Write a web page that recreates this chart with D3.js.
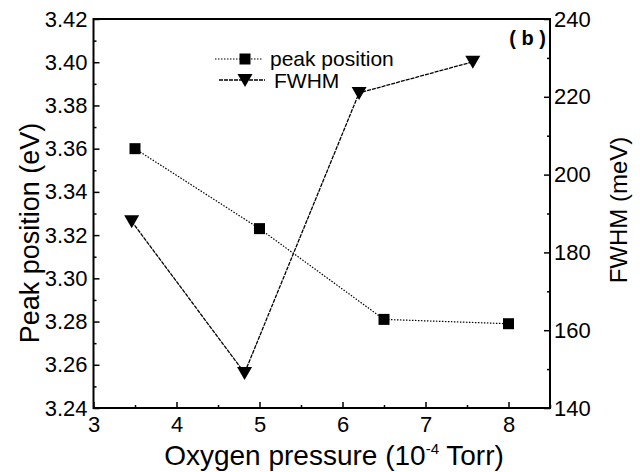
<!DOCTYPE html>
<html>
<head>
<meta charset="utf-8">
<script src="https://cdn.jsdelivr.net/npm/d3@7"></script>
<style>
  body { margin: 0; background: #fff; }
  text { font-family: "Liberation Sans", Arial, sans-serif; fill: #000; }
</style>
</head>
<body>
<div id="chart"></div>
<script>
// values
var peakPressure = [3.5, 5.0, 6.5, 8.0];
var peakEnergy = [3.36, 3.323, 3.281, 3.279];
var fwhmPressure = [3.46, 4.82, 6.2, 7.57];
var fwhmValue = [188, 149, 221, 229];

var xTicks = [3, 4, 5, 6, 7, 8];
var xMinor = [3.5, 4.5, 5.5, 6.5, 7.5, 8.5];
var leftTicks = [3.24, 3.26, 3.28, 3.30, 3.32, 3.34, 3.36, 3.38, 3.40, 3.42];
var leftMinor = [3.25, 3.27, 3.29, 3.31, 3.33, 3.35, 3.37, 3.39, 3.41];
var rightTicks = [140, 160, 180, 200, 220, 240];
var rightMinor = [150, 170, 190, 210, 230];

var W = 640, H = 472;
var plotL = 93.5, plotR = 550, plotT = 19, plotB = 408;

var svg = d3.select('#chart').append('svg').attr('width', W).attr('height', H);

var x = d3.scaleLinear().domain([3, 8.5]).range([plotL, plotR]);
var yL = d3.scaleLinear().domain([3.24, 3.42]).range([plotB, plotT]);
var yR = d3.scaleLinear().domain([140, 240]).range([plotB, plotT]);

// frame
svg.append('rect')
  .attr('x', plotL).attr('y', plotT)
  .attr('width', plotR - plotL).attr('height', plotB - plotT)
  .attr('fill', 'none').attr('stroke', '#000').attr('stroke-width', 2);

// axes, ticks pointing inward
svg.append('g').attr('transform', 'translate(0,' + plotB + ')')
  .call(d3.axisBottom(x).tickValues(xTicks).tickSizeInner(-6).tickSizeOuter(0).tickPadding(8).tickFormat(d3.format('d')));
svg.append('g').attr('transform', 'translate(0,' + plotB + ')')
  .call(d3.axisBottom(x).tickValues(xMinor).tickSizeInner(-3).tickSizeOuter(0).tickFormat(''));

svg.append('g').attr('transform', 'translate(' + plotL + ',0)')
  .call(d3.axisLeft(yL).tickValues(leftTicks).tickSizeInner(-6).tickSizeOuter(0).tickPadding(6).tickFormat(d3.format('.2f')));
svg.append('g').attr('transform', 'translate(' + plotL + ',0)')
  .call(d3.axisLeft(yL).tickValues(leftMinor).tickSizeInner(-3).tickSizeOuter(0).tickFormat(''));

svg.append('g').attr('transform', 'translate(' + plotR + ',0)')
  .call(d3.axisRight(yR).tickValues(rightTicks).tickSizeInner(-6).tickSizeOuter(0).tickPadding(4).tickFormat(d3.format('d')));
svg.append('g').attr('transform', 'translate(' + plotR + ',0)')
  .call(d3.axisRight(yR).tickValues(rightMinor).tickSizeInner(-3).tickSizeOuter(0).tickFormat(''));

svg.selectAll('.domain').remove();
svg.selectAll('.tick line').attr('stroke', '#000').attr('stroke-width', 1.5);
svg.selectAll('.tick text').attr('font-size', 22).attr('font-family', '"Liberation Sans", Arial, sans-serif').attr('fill', '#000');

// axis titles
svg.append('text')
  .attr('x', 334).attr('y', 465)
  .attr('text-anchor', 'middle').attr('font-size', 28)
  .html('Oxygen pressure (10<tspan dy="-11" font-size="15">-4</tspan><tspan dy="11"> Torr)</tspan>');

svg.append('text')
  .attr('transform', 'translate(39,233) rotate(-90)')
  .attr('text-anchor', 'middle').attr('font-size', 27)
  .text('Peak position (eV)');

svg.append('text')
  .attr('transform', 'translate(627,210) rotate(-90)')
  .attr('text-anchor', 'middle').attr('font-size', 24)
  .text('FWHM (meV)');

svg.append('text')
  .attr('x', 546).attr('y', 45)
  .attr('text-anchor', 'end').attr('font-size', 20).attr('font-weight', 'bold')
  .attr('xml:space', 'preserve')
  .text('( b )');

// series
var peakData = peakPressure.map(function(p, i) { return [p, peakEnergy[i]]; });
var fwhmData = fwhmPressure.map(function(p, i) { return [p, fwhmValue[i]]; });

svg.append('path')
  .datum(peakData)
  .attr('fill', 'none').attr('stroke', '#000').attr('stroke-width', 1.2)
  .attr('stroke-dasharray', '1.5,1.5')
  .attr('d', d3.line().x(function(d) { return x(d[0]); }).y(function(d) { return yL(d[1]); }));

svg.append('path')
  .datum(fwhmData)
  .attr('fill', 'none').attr('stroke', '#000').attr('stroke-width', 1.3)
  .attr('stroke-dasharray', '4,1')
  .attr('d', d3.line().x(function(d) { return x(d[0]); }).y(function(d) { return yR(d[1]); }));

var sq = 11;
svg.selectAll('.sq').data(peakData).enter().append('rect')
  .attr('x', function(d) { return x(d[0]) - sq / 2; })
  .attr('y', function(d) { return yL(d[1]) - sq / 2; })
  .attr('width', sq).attr('height', sq).attr('fill', '#000');

function tri(cx, cy) {
  return 'M' + (cx - 7.5) + ',' + (cy - 6) + 'L' + (cx + 7.5) + ',' + (cy - 6) + 'L' + cx + ',' + (cy + 7) + 'Z';
}
svg.selectAll('.tri').data(fwhmData).enter().append('path')
  .attr('d', function(d) { return tri(x(d[0]), yR(d[1])); })
  .attr('fill', '#000');

// legend
var lg = svg.append('g');
lg.append('line').attr('x1', 215).attr('x2', 262).attr('y1', 59).attr('y2', 59)
  .attr('stroke', '#000').attr('stroke-width', 1.2).attr('stroke-dasharray', '1.5,1.5');
lg.append('rect').attr('x', 245 - sq / 2).attr('y', 59 - sq / 2).attr('width', sq).attr('height', sq).attr('fill', '#000');
lg.append('text').attr('x', 270).attr('y', 66).attr('font-size', 21).text('peak position');

lg.append('line').attr('x1', 219).attr('x2', 265).attr('y1', 80).attr('y2', 80)
  .attr('stroke', '#000').attr('stroke-width', 1.3).attr('stroke-dasharray', '4,1');
lg.append('path').attr('d', tri(245, 80)).attr('fill', '#000');
lg.append('text').attr('x', 274).attr('y', 88).attr('font-size', 21).text('FWHM');
</script>
</body>
</html>
